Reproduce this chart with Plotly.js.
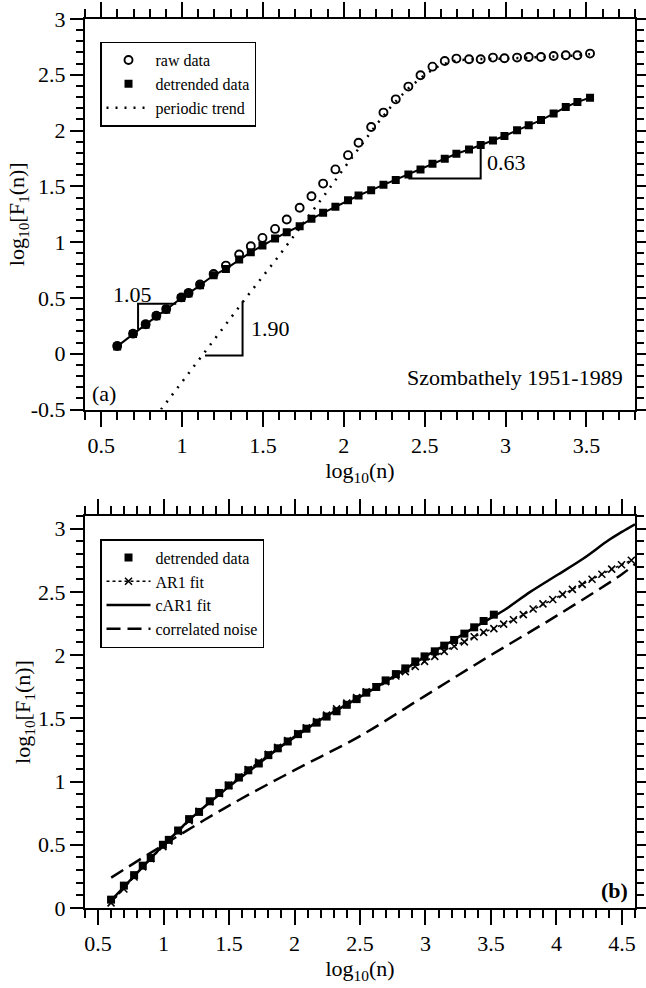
<!DOCTYPE html>
<html>
<head>
<meta charset="utf-8">
<script src="https://cdn.plot.ly/plotly-3.0.1.min.js"></script>
<style>
html,body{margin:0;padding:0;background:#fff}
.modebar-container,.modebar{display:none !important}
</style>
</head>
<body>
<div id="chart" style="width:646px;height:988px"></div>
<script>
// log10(n) window sizes of the DFA1 analysis
const logN = [0.599, 0.697, 0.775, 0.841, 0.902, 0.995, 1.040, 1.111, 1.195, 1.271,
  1.353, 1.425, 1.497, 1.575, 1.647, 1.727, 1.800, 1.872, 1.948, 2.026,
  2.091, 2.169, 2.245, 2.321, 2.399, 2.474, 2.548, 2.624, 2.696, 2.774,
  2.846, 2.922, 2.993, 3.071, 3.143, 3.219, 3.297, 3.372, 3.444, 3.522];

// panel (a): raw and detrended fluctuation functions
const rawF = [0.070, 0.180, 0.265, 0.340, 0.400, 0.505, 0.545, 0.620, 0.715, 0.790,
  0.889, 0.963, 1.038, 1.119, 1.203, 1.308, 1.412, 1.525, 1.652, 1.780,
  1.891, 2.032, 2.161, 2.280, 2.394, 2.496, 2.573, 2.624, 2.645, 2.639,
  2.639, 2.654, 2.648, 2.654, 2.660, 2.660, 2.669, 2.675, 2.675, 2.690];
const detrendedF = [0.066, 0.177, 0.260, 0.335, 0.395, 0.500, 0.539, 0.613, 0.703, 0.760,
  0.844, 0.910, 0.969, 1.032, 1.089, 1.143, 1.209, 1.263, 1.317, 1.375,
  1.418, 1.466, 1.514, 1.556, 1.607, 1.652, 1.703, 1.748, 1.792, 1.831,
  1.870, 1.912, 1.951, 2.002, 2.047, 2.094, 2.152, 2.211, 2.256, 2.295];
const trendX = [0.870, 1.000, 1.200, 1.400, 1.600, 1.800, 1.900, 2.000, 2.100, 2.200,
  2.300, 2.400, 2.500, 2.600, 2.700, 2.800, 3.000, 3.200, 3.400, 3.522];
const trendF = [-0.500, -0.250, 0.130, 0.510, 0.880, 1.260, 1.460, 1.660, 1.860, 2.050,
  2.230, 2.380, 2.500, 2.590, 2.630, 2.640, 2.645, 2.655, 2.670, 2.685];

// panel (b): detrended data and model fits
const detrendedB = [0.066, 0.177, 0.260, 0.335, 0.395, 0.500, 0.539, 0.613, 0.703, 0.760,
  0.844, 0.910, 0.969, 1.032, 1.089, 1.143, 1.209, 1.263, 1.317, 1.375,
  1.418, 1.466, 1.514, 1.556, 1.607, 1.652, 1.703, 1.748, 1.800, 1.850,
  1.895, 1.950, 1.990, 2.030, 2.075, 2.120, 2.170, 2.220, 2.270, 2.320];
const ar1X = [0.599, 0.697, 0.775, 0.841, 0.902, 0.995, 1.040, 1.111, 1.195, 1.271,
  1.353, 1.425, 1.497, 1.575, 1.647, 1.727, 1.800, 1.872, 1.948, 2.026,
  2.091, 2.169, 2.245, 2.321, 2.399, 2.474, 2.548, 2.624, 2.696, 2.774,
  2.846, 2.922, 2.993, 3.071, 3.143, 3.219, 3.297, 3.372, 3.444, 3.522,
  3.597, 3.672, 3.747, 3.822, 3.897, 3.972, 4.047, 4.122, 4.197, 4.272,
  4.347, 4.422, 4.497, 4.572];
const ar1F = [0.040, 0.150, 0.245, 0.325, 0.390, 0.485, 0.530, 0.605, 0.690, 0.765,
  0.840, 0.905, 0.970, 1.035, 1.095, 1.155, 1.215, 1.270, 1.325, 1.380,
  1.425, 1.475, 1.525, 1.575, 1.620, 1.665, 1.710, 1.750, 1.790, 1.835,
  1.870, 1.910, 1.950, 1.990, 2.030, 2.070, 2.105, 2.145, 2.180, 2.210,
  2.245, 2.280, 2.320, 2.365, 2.405, 2.440, 2.480, 2.520, 2.560, 2.600,
  2.640, 2.680, 2.715, 2.750];
const car1X = [0.6, 0.7, 0.8, 0.9, 1.0, 1.1, 1.2, 1.3, 1.4, 1.5, 1.6, 1.7, 1.8, 1.9, 2.0,
  2.2, 2.4, 2.6, 2.8, 3.0, 3.2, 3.4, 3.6, 3.8, 4.0, 4.2, 4.4, 4.5, 4.6];
const car1F = [0.060, 0.170, 0.280, 0.390, 0.500, 0.600, 0.700, 0.790, 0.875, 0.960,
  1.040, 1.120, 1.200, 1.280, 1.350, 1.490, 1.610, 1.730, 1.860, 1.990,
  2.110, 2.235, 2.355, 2.500, 2.630, 2.760, 2.910, 2.975, 3.035];
const noiseX = [0.6, 1.0, 1.5, 2.0, 2.5, 3.0, 3.5, 4.0, 4.5, 4.6];
const noiseF = [0.240, 0.500, 0.810, 1.090, 1.360, 1.680, 2.000, 2.310, 2.640, 2.720];

// axis ticks
const xTicksA = [0.5, 1, 1.5, 2, 2.5, 3, 3.5];
const xTicksB = [0.5, 1, 1.5, 2, 2.5, 3, 3.5, 4, 4.5];
const yTicksA = [-0.5, 0, 0.5, 1, 1.5, 2, 2.5, 3];
const yTicksB = [0, 0.5, 1, 1.5, 2, 2.5, 3];
const label = v => String(v);

const SERIF = 'Liberation Serif, Times New Roman, serif';
const INK = '#000';
const X_RANGE_A = [0.4, 3.8], X_RANGE_B = [0.4, 4.6];
const Y_RANGE_A = [-0.5, 3], Y_RANGE_B = [0, 3.1];
const DOMAIN_A = [0.5607, 1], DOMAIN_B = [0, 0.4409];

const traces = [
  // panel (a)
  {x: logN, y: rawF, mode: 'markers', name: 'raw data', xaxis: 'x', yaxis: 'y', legend: 'legend',
   marker: {symbol: 'circle-open', size: 8, color: INK, line: {width: 1.9, color: INK}}},
  {x: logN, y: detrendedF, mode: 'lines', xaxis: 'x', yaxis: 'y', showlegend: false,
   line: {color: INK, width: 2}},
  {x: logN, y: detrendedF, mode: 'markers', name: 'detrended data', xaxis: 'x', yaxis: 'y', legend: 'legend',
   marker: {symbol: 'square', size: 8, color: INK}},
  {x: trendX, y: trendF, mode: 'lines', name: 'periodic trend', xaxis: 'x', yaxis: 'y', legend: 'legend',
   line: {color: INK, width: 2.5, dash: '2px,7px'}},
  // panel (b)
  {x: logN, y: detrendedB, mode: 'markers', name: 'detrended data', xaxis: 'x2', yaxis: 'y2', legend: 'legend2',
   marker: {symbol: 'square', size: 8, color: INK}},
  {x: ar1X, y: ar1F, mode: 'lines+markers', name: 'AR1 fit', xaxis: 'x2', yaxis: 'y2', legend: 'legend2',
   line: {color: INK, width: 1.5, dash: 'dot'},
   marker: {symbol: 'x-thin-open', size: 7, color: INK, line: {width: 1.6, color: INK}}},
  {x: car1X, y: car1F, mode: 'lines', name: 'cAR1 fit', xaxis: 'x2', yaxis: 'y2', legend: 'legend2',
   line: {color: INK, width: 2.5, shape: 'spline'}},
  {x: noiseX, y: noiseF, mode: 'lines', name: 'correlated noise', xaxis: 'x2', yaxis: 'y2', legend: 'legend2',
   line: {color: INK, width: 2.5, dash: '14px,7px', shape: 'spline'}}
];

const tickFont = {family: SERIF, size: 22, color: INK};

// boxed frame: ticks on all four edges, labels on bottom and left
function xAxis(range, ticks, anchor) {
  return {
    range: range, anchor: anchor, tickmode: 'array', tickvals: ticks, ticktext: ticks.map(label),
    ticks: 'outside', ticklen: 15, tickwidth: 2, tickcolor: INK,
    minor: {dtick: 0.1, tick0: 0, ticks: 'outside', ticklen: 8, tickwidth: 2, tickcolor: INK, showgrid: false},
    showline: true, linewidth: 2, linecolor: INK, mirror: 'allticks',
    showgrid: false, zeroline: false, tickfont: tickFont,
    title: {text: 'log<sub>10</sub>(n)', font: tickFont, standoff: 2}
  };
}
function yAxis(range, ticks, domain, anchor) {
  return {
    range: range, domain: domain, anchor: anchor, tickmode: 'array', tickvals: ticks, ticktext: ticks.map(label),
    ticks: 'outside', ticklen: 13, tickwidth: 2, tickcolor: INK,
    minor: {dtick: 0.1, tick0: 0, ticks: 'outside', ticklen: 7, tickwidth: 2, tickcolor: INK, showgrid: false},
    showline: true, linewidth: 2, linecolor: INK, mirror: 'allticks',
    showgrid: false, zeroline: false, tickfont: tickFont,
    title: {text: 'log<sub>10</sub>[F<sub>1</sub>(n)]', font: tickFont, standoff: 0}
  };
}

const legendStyle = (y) => ({
  x: 0.0273, y: y, xanchor: 'left', yanchor: 'top',
  bgcolor: '#fff', bordercolor: INK, borderwidth: 1.5,
  font: {family: SERIF, size: 16, color: INK}, itemwidth: 44, tracegroupgap: 0
});

const layout = {
  width: 646, height: 988,
  margin: {l: 85, r: 11, t: 19, b: 80},
  font: {family: SERIF, color: INK},
  showlegend: true,
  legend: legendStyle(0.9745),
  legend2: legendStyle(0.415),
  xaxis: xAxis(X_RANGE_A, xTicksA, 'y'),
  yaxis: yAxis(Y_RANGE_A, yTicksA, DOMAIN_A, 'x'),
  xaxis2: xAxis(X_RANGE_B, xTicksB, 'y2'),
  yaxis2: yAxis(Y_RANGE_B, yTicksB, DOMAIN_B, 'x2'),
  shapes: [
    // slope guides in panel (a)
    {type: 'path', xref: 'x', yref: 'y', path: 'M 0.964 0.449 L 0.728 0.449 L 0.728 0.215', line: {color: INK, width: 2}},
    {type: 'path', xref: 'x', yref: 'y', path: 'M 1.142 -0.015 L 1.374 -0.015 L 1.374 0.470', line: {color: INK, width: 2}},
    {type: 'path', xref: 'x', yref: 'y', path: 'M 2.399 1.571 L 2.846 1.571 L 2.846 1.870', line: {color: INK, width: 2}}
  ],
  annotations: [
    {xref: 'x', yref: 'y', x: 0.696, y: 0.53, text: '1.05', showarrow: false, font: tickFont},
    {xref: 'x', yref: 'y', x: 1.415, y: 0.23, xanchor: 'left', text: '1.90', showarrow: false, font: tickFont},
    {xref: 'x', yref: 'y', x: 2.87, y: 1.71, xanchor: 'left', text: '0.63', showarrow: false, font: tickFont},
    {xref: 'x', yref: 'y', x: 3.74, y: -0.215, xanchor: 'right', text: 'Szombathely 1951-1989', showarrow: false, font: tickFont},
    {xref: 'x', yref: 'y', x: 0.43, y: -0.36, xanchor: 'left', text: '(a)', showarrow: false, font: tickFont},
    {xref: 'x2', yref: 'y2', x: 4.56, y: 0.14, xanchor: 'right', text: '<b>(b)</b>', showarrow: false, font: tickFont}
  ]
};

Plotly.newPlot('chart', traces, layout);
</script>
</body>
</html>
